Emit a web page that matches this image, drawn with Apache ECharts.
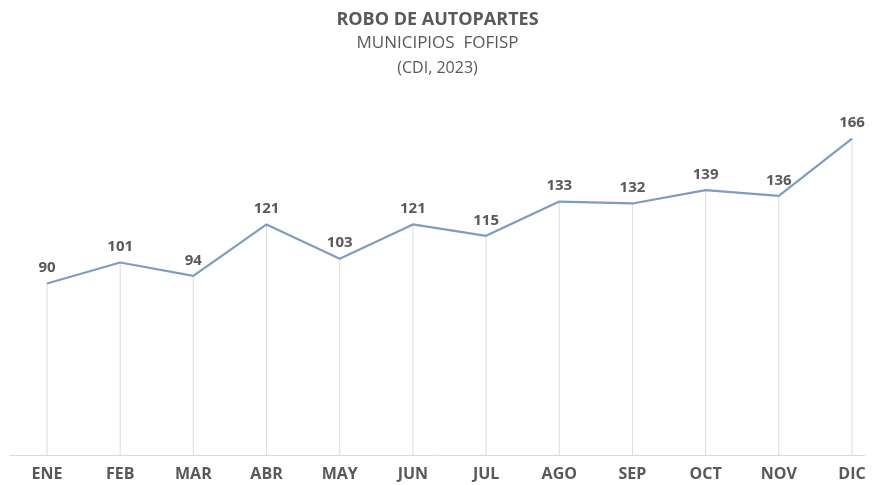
<!DOCTYPE html>
<html>
<head>
<meta charset="utf-8">
<script src="https://cdn.jsdelivr.net/npm/echarts@6/dist/echarts.min.js"></script>
<style>
  html, body { margin: 0; padding: 0; background: #fff; }
  #chart { width: 875px; height: 485px; }
</style>
</head>
<body>
<div id="chart"></div>
<script>
// meses y valores (robo de autopartes, 2023)
var meses = ['ENE', 'FEB', 'MAR', 'ABR', 'MAY', 'JUN', 'JUL', 'AGO', 'SEP', 'OCT', 'NOV', 'DIC'];
var robos = [90, 101, 94, 121, 103, 121, 115, 133, 132, 139, 136, 166];

var font = '"Open Sans", sans-serif';
var gris = '#595959';
var chart = echarts.init(document.getElementById('chart'));

var option = {
  backgroundColor: '#fff',
  animation: false,
  title: [
    { text: 'ROBO DE AUTOPARTES', left: 'center', top: 6,
      textStyle: { fontFamily: font, fontSize: 18, fontWeight: 'bold', color: gris } },
    { text: 'MUNICIPIOS  FOFISP', left: 'center', top: 30,
      textStyle: { fontFamily: font, fontSize: 17, fontWeight: 'normal', color: gris } },
    { text: '(CDI, 2023)', left: 'center', top: 55,
      textStyle: { fontFamily: font, fontSize: 16, fontWeight: 'normal', color: gris } }
  ],
  grid: [
    { left: 47, right: 23, top: 112, bottom: 30 },   // datos
    { left: 10, right: 10, top: 112, bottom: 30 }    // solo la linea del eje
  ],
  xAxis: [{
    type: 'category',
    gridIndex: 0,
    data: meses,
    boundaryGap: false,
    axisLine: { show: false },
    axisTick: { show: false },
    axisLabel: { fontFamily: font, fontSize: 16, fontWeight: 'bold', color: gris, margin: 11 }
  }, {
    type: 'category',
    gridIndex: 1,
    data: meses,
    axisLine: { show: true, lineStyle: { color: '#d9d9d9', width: 1 } },
    axisTick: { show: false },
    axisLabel: { show: false }
  }],
  yAxis: [{
    type: 'value', gridIndex: 0, min: 0, max: 180, show: false, splitLine: { show: false }
  }, {
    type: 'value', gridIndex: 1, min: 0, max: 180, show: false, splitLine: { show: false }
  }],
  series: [{
    // lineas de caida
    type: 'bar',
    xAxisIndex: 0, yAxisIndex: 0,
    data: robos,
    barWidth: 1,
    itemStyle: { color: '#dcdcdc' },
    silent: true
  }, {
    type: 'line',
    xAxisIndex: 0, yAxisIndex: 0,
    data: robos,
    symbol: 'circle',
    symbolSize: 0,
    lineStyle: { color: '#7f9cc0', width: 2.2 },
    label: {
      show: true, position: 'top', distance: 8,
      fontFamily: font, fontSize: 15, fontWeight: 'bold', color: gris
    }
  }]
};

chart.setOption(option);
</script>
</body>
</html>
